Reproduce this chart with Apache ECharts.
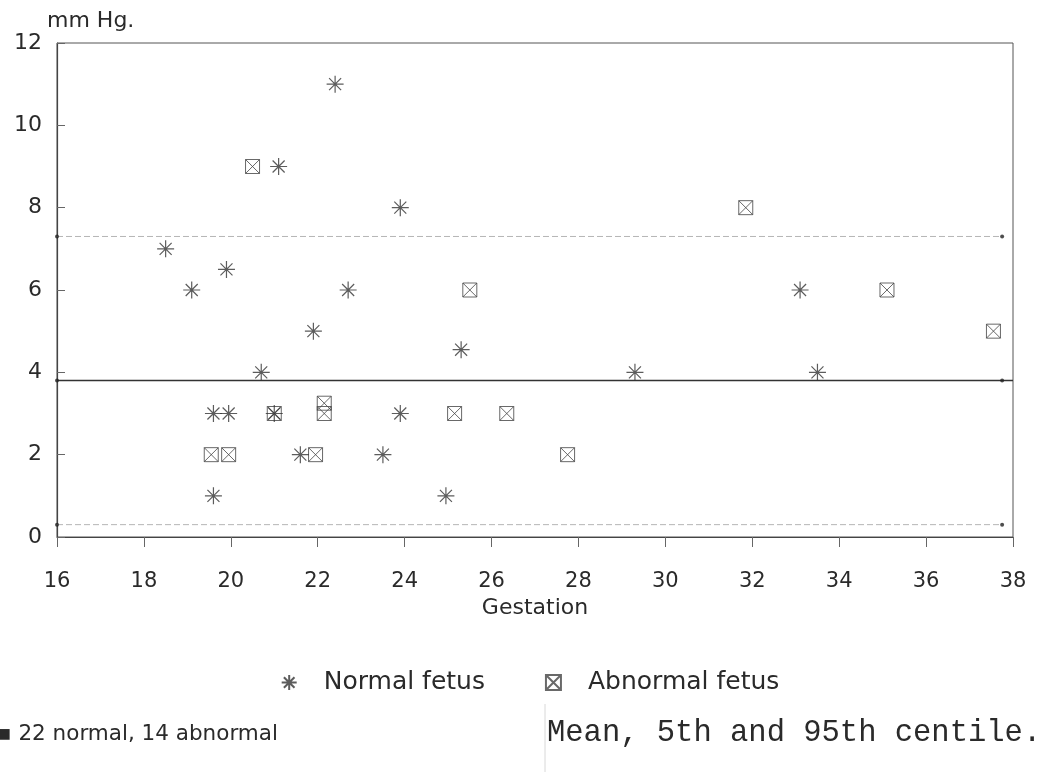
<!DOCTYPE html>
<html>
<head>
<meta charset="utf-8">
<script src="https://cdn.jsdelivr.net/npm/echarts@6/dist/echarts.min.js"></script>
<style>
  html, body { margin: 0; padding: 0; background: #ffffff; }
  #chart { width: 1060px; height: 772px; }
</style>
</head>
<body>
<div id="chart"></div>
<script>
// Umbilical venous pressure (mm Hg) against gestation (weeks)
const normalFetus = [
  [18.5, 7.0], [19.1, 6.0], [19.9, 6.5], [21.1, 9.0], [22.4, 11.0],
  [23.9, 8.0], [22.7, 6.0], [21.9, 5.0], [20.7, 4.0], [25.3, 4.55],
  [29.3, 4.0], [33.1, 6.0], [33.5, 4.0], [19.6, 3.0], [19.95, 3.0],
  [21.0, 3.0], [21.6, 2.0], [23.5, 2.0], [23.9, 3.0], [24.95, 1.0],
  [19.6, 1.0]
];
const abnormalFetus = [
  [20.5, 9.0], [25.5, 6.0], [31.85, 8.0], [35.1, 6.0], [37.55, 5.0],
  [19.55, 2.0], [19.95, 2.0], [21.0, 3.0], [21.95, 2.0], [22.15, 3.25],
  [22.15, 3.0], [25.15, 3.0], [26.35, 3.0], [27.75, 2.0]
];

// reference lines: mean, 5th and 95th centile
const meanValue = 3.8;
const centile5 = 0.3;
const centile95 = 7.3;
const refStart = 16;
const refEnd = 37.75;

const xTicks = [16, 18, 20, 22, 24, 26, 28, 30, 32, 34, 36, 38];
const yTicks = [0, 2, 4, 6, 8, 10, 12];

const legendNames = ['Normal fetus', 'Abnormal fetus'];
const footLeft = '\u25AA 22 normal, 14 abnormal';
const footRight = 'Mean, 5th and 95th centile.';

const asteriskPath = 'path://M0,-10L0,10M-10,0L10,0M-7.07,-7.07L7.07,7.07M-7.07,7.07L7.07,-7.07';
const crossBoxPath = 'path://M-10,-10L10,-10L10,10L-10,10Z M-10,-10L10,10M-10,10L10,-10';

const ink = '#2a2a2a';
const sans = 'DejaVu Sans, Liberation Sans, sans-serif';
const chart = echarts.init(document.getElementById('chart'));

chart.setOption({
  backgroundColor: '#ffffff',
  animation: false,
  textStyle: { fontFamily: sans, color: ink },
  grid: { left: 57, right: 47, top: 43, bottom: 235, show: true, borderColor: '#555', borderWidth: 1 },
  xAxis: {
    type: 'value', min: xTicks[0], max: xTicks[xTicks.length - 1], interval: 2,
    name: 'Gestation', nameLocation: 'middle', nameGap: 60,
    nameTextStyle: { fontSize: 22, color: ink, fontFamily: sans },
    axisLine: { show: true, lineStyle: { color: '#444', width: 1.2 } },
    axisTick: { show: true, inside: false, length: 10, lineStyle: { color: '#666' } },
    axisLabel: { fontSize: 21, color: ink, margin: 34, fontFamily: sans, formatter: v => xTicks.includes(v) ? String(v) : '' },
    splitLine: { show: false }
  },
  yAxis: {
    type: 'value', min: yTicks[0], max: yTicks[yTicks.length - 1], interval: 2,
    name: 'mm Hg.', nameLocation: 'end', nameGap: 9,
    nameTextStyle: { fontSize: 22, color: ink, fontFamily: sans, align: 'left', padding: [0, 0, 0, -10] },
    axisLine: { show: true, lineStyle: { color: '#444', width: 1.2 } },
    axisTick: { show: true, inside: true, length: 8, lineStyle: { color: '#666' } },
    axisLabel: { fontSize: 22, color: ink, margin: 15, fontFamily: sans },
    splitLine: { show: false }
  },
  legend: {
    data: legendNames, left: 'center', top: 665, itemGap: 60, itemWidth: 15, itemHeight: 15,
    textStyle: { fontSize: 25, color: ink, fontFamily: sans, padding: [0, 0, 0, 22] }
  },
  series: [
    {
      name: 'Normal fetus', type: 'scatter', data: normalFetus,
      symbol: asteriskPath, symbolSize: 17,
      itemStyle: { color: 'rgba(0,0,0,0)', borderColor: '#333', borderWidth: 1.2 },
      z: 5
    },
    {
      name: 'Abnormal fetus', type: 'scatter', data: abnormalFetus,
      symbol: crossBoxPath, symbolSize: 14,
      itemStyle: { color: 'rgba(0,0,0,0)', borderColor: '#444', borderWidth: 1 },
      z: 4
    },
    {
      name: 'mean', type: 'line', data: [[refStart, meanValue], [xTicks[xTicks.length - 1], meanValue]],
      symbol: 'none', lineStyle: { color: '#333', width: 1.6 }, silent: true, z: 2
    },
    {
      name: 'p95', type: 'line', data: [[refStart, centile95], [refEnd, centile95]],
      symbol: 'none', lineStyle: { color: '#b5b5b5', width: 1, type: [6, 3] }, silent: true, z: 2
    },
    {
      name: 'p5', type: 'line', data: [[refStart, centile5], [refEnd, centile5]],
      symbol: 'none', lineStyle: { color: '#b5b5b5', width: 1, type: [6, 3] }, silent: true, z: 2
    },
    {
      name: 'ends', type: 'scatter', silent: true, z: 6,
      data: [[refStart, meanValue], [refEnd, meanValue], [refStart, centile95], [refEnd, centile95], [refStart, centile5], [refEnd, centile5]],
      symbol: 'circle', symbolSize: 4, itemStyle: { color: '#222' }
    }
  ],
  graphic: [
    { type: 'text', left: -3, top: 723, style: { text: footLeft, fontSize: 21.5, fill: ink, fontFamily: sans } },
    { type: 'line', shape: { x1: 545, y1: 704, x2: 545, y2: 772 }, style: { stroke: '#d8d8d8', lineWidth: 1 } },
    { type: 'text', left: 547, top: 717, style: { text: footRight, fontSize: 30.5, fill: ink, fontFamily: 'Liberation Mono, Courier New, monospace' } }
  ]
});
</script>
</body>
</html>
